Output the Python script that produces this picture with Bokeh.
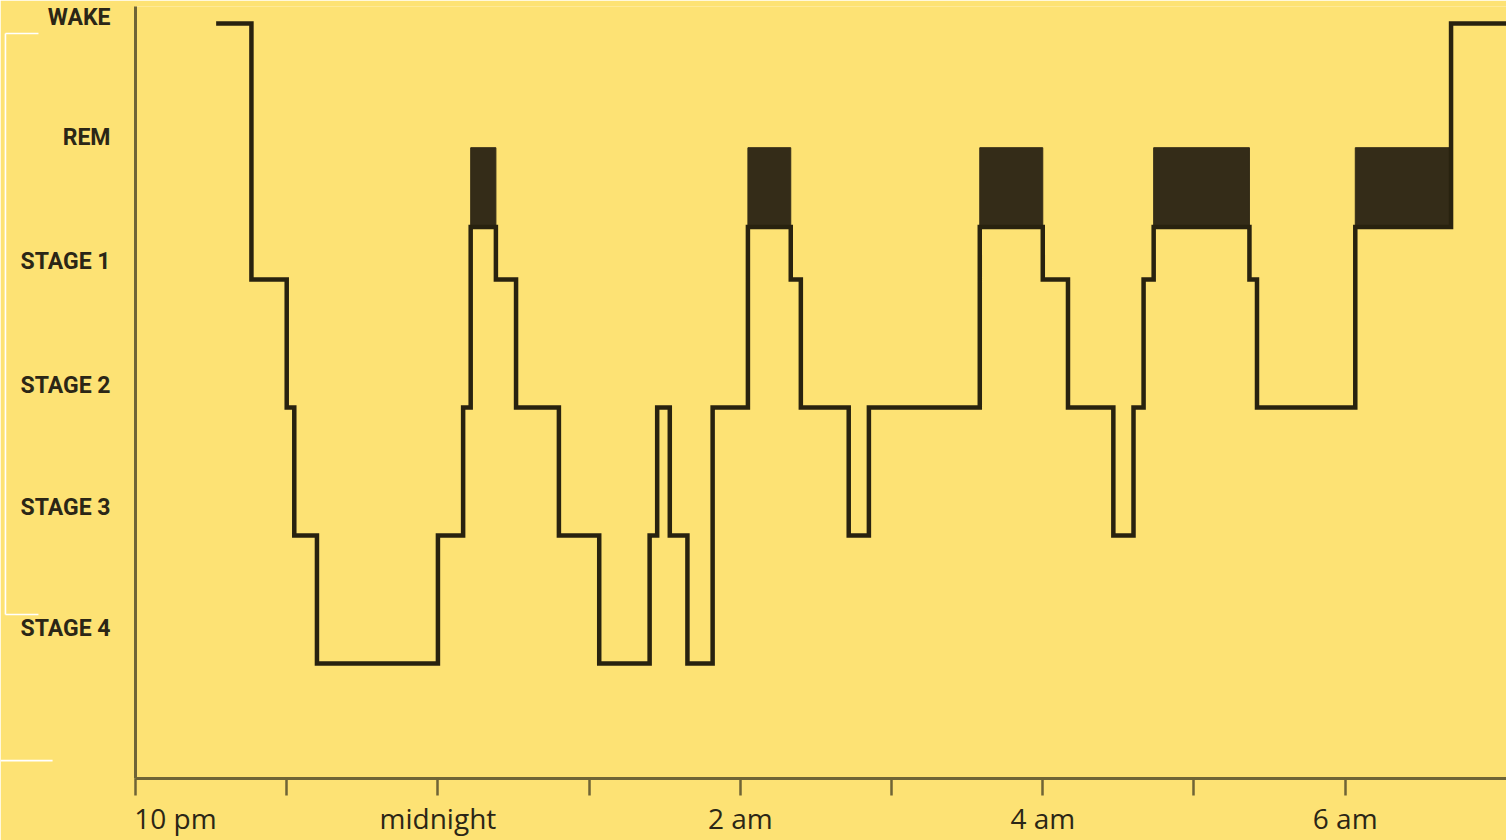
from bokeh.plotting import figure
from bokeh.models import FixedTicker
from bokeh.layouts import row
from bokeh.embed import file_html
from bokeh.resources import INLINE

# ---- data ----
# minutes after 10 pm at which each stage begins (last value = end of record)
change_minutes = [32, 46, 60, 63, 72, 120, 130, 133, 143, 151, 168, 184, 204, 207,
                  212, 219, 229, 243, 260, 264, 283, 291, 335, 360, 370, 388, 396,
                  400, 404, 442, 445, 484, 522, 545]
stages = ["WAKE", "STAGE 1", "STAGE 2", "STAGE 3", "STAGE 4", "STAGE 3", "STAGE 2",
          "REM", "STAGE 1", "STAGE 2", "STAGE 3", "STAGE 4", "STAGE 3", "STAGE 2",
          "STAGE 3", "STAGE 4", "STAGE 2", "REM", "STAGE 1", "STAGE 2", "STAGE 3",
          "STAGE 2", "REM", "STAGE 1", "STAGE 2", "STAGE 3", "STAGE 2", "STAGE 1",
          "REM", "STAGE 1", "STAGE 2", "REM", "WAKE", "WAKE"]
stage_names = ["WAKE", "REM", "STAGE 1", "STAGE 2", "STAGE 3", "STAGE 4"]
stage_level = [5.0, 3.41, 3.0, 2.0, 1.0, 0.0]
rem_top = 4.03
stage_label_pos = [5.05, 4.11, 3.14, 2.17, 1.22, 0.27]

tick_minutes = [0, 60, 120, 180, 240, 300, 360, 420, 480]
tick_labels = ["10 pm", "", "midnight", "", "2 am", "", "4 am", "", "6 am"]

# ---- styles ----
BG = "#FDE274"
AX = "#6f6436"
INK = "#28220f"
REMFILL = "#342c18"
TXT = "#2b2616"
X_RANGE = (0, 544)
Y_RANGE = (-0.898, 5.133)

level_of = dict(zip(stage_names, stage_level))
ys = [level_of[s] for s in stages]

p = figure(width=1506, height=840, x_range=X_RANGE, y_range=Y_RANGE,
           output_backend="svg", toolbar_location=None,
           min_border_left=135, min_border_right=0, min_border_top=6, min_border_bottom=62,
           background_fill_color=BG, border_fill_color=BG, outline_line_color=None)
p.styles = {"position": "absolute", "left": "0px", "top": "0px"}
p.xgrid.visible = False
p.ygrid.visible = False

# REM blocks
rem_l, rem_r = [], []
for i, s in enumerate(stages[:-1]):
    if s == "REM":
        rem_l.append(change_minutes[i])
        rem_r.append(change_minutes[i + 1])
p.quad(left=rem_l, right=rem_r, bottom=level_of["REM"], top=rem_top,
       fill_color=REMFILL, line_color=REMFILL, line_width=1)

p.step(x=change_minutes, y=ys, mode="after", line_color=INK, line_width=4.5,
       line_join="miter")

# x axis
xa = p.xaxis[0]
xa.ticker = FixedTicker(ticks=tick_minutes)
overrides = dict(zip(tick_minutes, tick_labels))
# first label starts at its tick (left-aligned look) -> pad with non-breaking spaces
overrides[tick_minutes[0]] = "\u00a0" * 11 + tick_labels[0]
xa.major_label_overrides = overrides
xa.axis_line_color = AX
xa.axis_line_width = 3
xa.major_tick_line_color = AX
xa.major_tick_line_width = 2.5
xa.major_tick_in = 0
xa.major_tick_out = 17
xa.minor_tick_line_color = None
xa.major_label_text_font = "Open Sans"
xa.major_label_text_font_size = "28px"
xa.major_label_text_color = TXT
xa.major_label_standoff = 3

# y axis
ya = p.yaxis[0]
ya.ticker = FixedTicker(ticks=stage_label_pos)
ya.major_label_overrides = dict(zip(stage_label_pos, stage_names))
ya.axis_line_color = AX
ya.axis_line_width = 3
ya.major_tick_line_color = None
ya.major_tick_in = 0
ya.major_tick_out = 0
ya.minor_tick_line_color = None
ya.major_label_standoff = 25
ya.major_label_text_font = "Roboto"
ya.major_label_text_font_style = "bold"
ya.major_label_text_font_size = "23px"
ya.major_label_text_color = TXT

# transparent overlay sharing the same data coordinates (same y extent, full width),
# for the thin white bracket marks at the far left
px_per_min = 1371 / 544.0
ov_x = (X_RANGE[0] - 135 / px_per_min, X_RANGE[1])
p2 = figure(width=1506, height=840, x_range=ov_x, y_range=Y_RANGE,
            output_backend="svg", toolbar_location=None,
            min_border_left=0, min_border_right=0, min_border_top=6, min_border_bottom=62,
            background_fill_alpha=0, border_fill_alpha=0, outline_line_color=None)
p2.styles = {"position": "absolute", "left": "0px", "top": "0px"}
p2.axis.visible = False
p2.xgrid.visible = False
p2.ygrid.visible = False
p2.segment(x0=[-51.6, -51.6, -51.6, -53.6], y0=[4.922, 4.922, 0.383, -0.758],
           x1=[-51.6, -38.5, -38.5, -32.9], y1=[0.383, 4.922, 0.383, -0.758],
           line_color="white", line_width=1.6)

root = row(p, p2, width=1506, height=840)
root.styles = {"position": "absolute", "left": "0px", "top": "0px"}

open("out.html", "w").write(file_html(root, INLINE))
